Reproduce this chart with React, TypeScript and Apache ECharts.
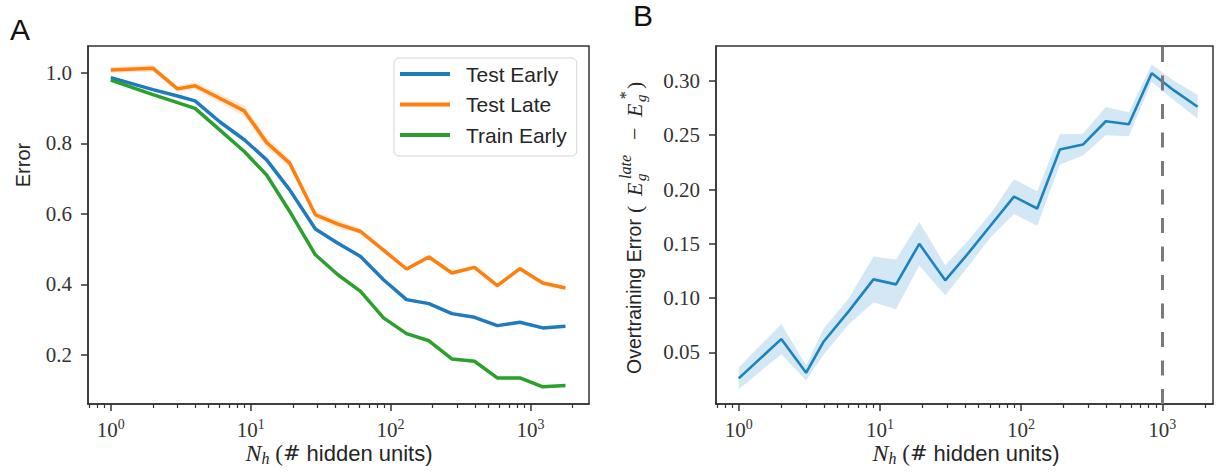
import React, { useEffect, useRef } from 'react';
import * as echarts from 'echarts';

// ---------- data ----------
const N = [1, 2, 3, 4, 6, 9, 13, 19, 29, 42, 61, 89, 130, 188, 274, 398, 579, 841, 1223, 1778];

const testEarly = [0.986, 0.952, 0.934, 0.92, 0.861, 0.81, 0.753, 0.668, 0.557, 0.517, 0.4795, 0.4135, 0.357, 0.3457, 0.3174, 0.307, 0.2834, 0.2928, 0.277, 0.2815];
const testLate = [1.0076, 1.0124, 0.954, 0.963, 0.9275, 0.8917, 0.802, 0.7437, 0.5975, 0.571, 0.55, 0.497, 0.4438, 0.4778, 0.4325, 0.4483, 0.3966, 0.4447, 0.4042, 0.39];
const trainEarly = [0.979, 0.938, 0.915, 0.899, 0.838, 0.7765, 0.71, 0.6068, 0.484, 0.4276, 0.3805, 0.3055, 0.2607, 0.2405, 0.1891, 0.1825, 0.1353, 0.1353, 0.11, 0.1137];

const testEarlyErr = [0.004, 0.004, 0.004, 0.004, 0.005, 0.005, 0.005, 0.005, 0.005, 0.005, 0.005, 0.004, 0.004, 0.004, 0.004, 0.004, 0.004, 0.004, 0.004, 0.004];
const testLateErr = [0.008, 0.01, 0.008, 0.01, 0.012, 0.015, 0.015, 0.012, 0.01, 0.01, 0.008, 0.007, 0.006, 0.006, 0.006, 0.006, 0.006, 0.006, 0.006, 0.006];
const trainEarlyErr = [0.004, 0.004, 0.004, 0.004, 0.004, 0.004, 0.004, 0.004, 0.004, 0.004, 0.004, 0.004, 0.004, 0.004, 0.004, 0.004, 0.004, 0.004, 0.004, 0.004];

const overtraining = [0.026, 0.0622, 0.0312, 0.06, 0.0877, 0.1172, 0.1126, 0.15, 0.1163, 0.1409, 0.1671, 0.1935, 0.1825, 0.2368, 0.2414, 0.2629, 0.2601, 0.3071, 0.2908, 0.2762];
const overtrainingErr = [0.01, 0.014, 0.007, 0.012, 0.012, 0.021, 0.023, 0.02, 0.014, 0.012, 0.011, 0.016, 0.016, 0.014, 0.01, 0.013, 0.011, 0.008, 0.009, 0.011];

const errorTicks = [0.2, 0.4, 0.6, 0.8, 1.0];
const overTicks = [0.05, 0.1, 0.15, 0.2, 0.25, 0.3];
const majorTicks = [1, 10, 100, 1000];
const minorTicks = [0.7, 0.8, 0.9, 2, 3, 4, 5, 6, 7, 8, 9, 20, 30, 40, 50, 60, 70, 80, 90, 200, 300, 400, 500, 600, 700, 800, 900, 2000];
const earlyStopN = 1000;

const seriesNames = ['Test Early', 'Test Late', 'Train Early'];
const seriesColors = ['#1f7bbd', '#ff7f0e', '#2ca02c'];
const bandColors = ['rgba(31,123,189,0.18)', 'rgba(255,127,14,0.18)', 'rgba(44,160,44,0.18)'];

// axis ranges
const A_XMIN = 0.687, A_XMAX = 2620;
const B_XMIN = 0.69, B_XMAX = 2286;
const A_YMIN = 0.0614, A_YMAX = 1.0755;
const B_YMIN = 0.0024, B_YMAX = 0.3322;

const AXIS_COLOR = '#333';
const TEXT_COLOR = '#262626';
const SERIF = '"Liberation Serif", "DejaVu Serif", serif';
const SANS = '"Liberation Sans", Arial, sans-serif';

function bandSeries(vals: number[], errs: number[], color: string, xIdx: number, yIdx: number) {
  return {
    type: 'custom', xAxisIndex: xIdx, yAxisIndex: yIdx, silent: true, z: 1, clip: true,
    data: N.map((n, i) => [n, vals[i] - errs[i], vals[i] + errs[i]]),
    encode: { x: 0, y: [1, 2] },
    renderItem: (params: any, api: any) => {
      if (params.dataIndex !== 0) return null;
      const upper = N.map((n, i) => api.coord([n, vals[i] + errs[i]]));
      const lower = N.map((n, i) => api.coord([n, vals[i] - errs[i]])).reverse();
      return { type: 'polygon', shape: { points: upper.concat(lower) }, style: { fill: color }, silent: true };
    },
  };
}

function logXAxes(gridIndex: number, min: number, max: number) {
  const lmin = Math.log10(min), lmax = Math.log10(max);
  const axisLS = { color: AXIS_COLOR, width: 1.5 };
  return [
    {
      gridIndex, type: 'log', logBase: 10, min, max,
      axisLine: { show: true, onZero: false, lineStyle: axisLS },
      axisTick: { show: false }, axisLabel: { show: false }, splitLine: { show: false },
    },
    {
      gridIndex, type: 'value', min: lmin, max: lmax, position: 'bottom',
      axisLine: { show: false, onZero: false }, splitLine: { show: false },
      axisTick: { show: true, length: 7, lineStyle: axisLS, customValues: majorTicks.map(Math.log10) },
      axisLabel: {
        show: true, customValues: majorTicks.map(Math.log10), margin: 13,
        fontFamily: SERIF, fontSize: 21, color: AXIS_COLOR,
        formatter: (v: number) => '10{s|' + Math.round(v) + '}',
        rich: { s: { fontSize: 14, fontFamily: SERIF, color: AXIS_COLOR, padding: [0, 0, 12, 0] } },
      },
    },
    {
      gridIndex, type: 'value', min: lmin, max: lmax, position: 'bottom',
      axisLine: { show: false, onZero: false }, splitLine: { show: false },
      axisTick: { show: true, length: 4, lineStyle: { color: AXIS_COLOR, width: 1.2 }, customValues: minorTicks.filter((t) => t >= min && t <= max).map(Math.log10) },
      axisLabel: { show: false },
    },
  ];
}

function yAxis(gridIndex: number, min: number, max: number, ticks: number[], digits: number) {
  return {
    gridIndex, type: 'value', min, max,
    axisLine: { show: true, onZero: false, lineStyle: { color: AXIS_COLOR, width: 1.5 } },
    splitLine: { show: false },
    axisTick: { show: true, length: 7, lineStyle: { color: AXIS_COLOR, width: 1.5 }, customValues: ticks },
    axisLabel: {
      show: true, customValues: ticks, margin: 16,
      fontFamily: SERIF, fontSize: 21, color: AXIS_COLOR,
      formatter: (v: number) => v.toFixed(digits),
    },
  };
}

function xName(cx: number) {
  return {
    type: 'text', x: cx, y: 453,
    style: {
      text: '{n|N}{h|h}{p| (}{m|#}{w| hidden units)}',
      align: 'center', verticalAlign: 'middle', textAlign: 'center', textVerticalAlign: 'middle',
      rich: {
        n: { fontFamily: SERIF, fontStyle: 'italic', fontSize: 24, fill: TEXT_COLOR, color: TEXT_COLOR },
        h: { fontFamily: SERIF, fontStyle: 'italic', fontSize: 16, fill: TEXT_COLOR, color: TEXT_COLOR, padding: [11, 0, 0, 0] },
        p: { fontFamily: SERIF, fontSize: 23, fill: TEXT_COLOR, color: TEXT_COLOR },
        m: { fontFamily: '"DejaVu Serif", serif', fontSize: 21, fill: TEXT_COLOR, color: TEXT_COLOR },
        w: { fontFamily: SANS, fontSize: 22, fill: TEXT_COLOR, color: TEXT_COLOR },
      },
    },
  };
}

function txt(x: number, y: number, text: string, font: string, size: number, italic = false) {
  return {
    type: 'text', x, y,
    style: {
      text, fontFamily: font, fontSize: size, fontStyle: italic ? 'italic' : 'normal', fill: TEXT_COLOR,
      align: 'left', verticalAlign: 'middle', textAlign: 'left', textVerticalAlign: 'middle',
    },
  };
}

export default function App() {
  const ref = useRef<HTMLDivElement>(null);

  useEffect(() => {
    if (!ref.current) return;
    const chart = echarts.init(ref.current, undefined, { renderer: 'svg' });

    const aVals = [testEarly, testLate, trainEarly];
    const aErrs = [testEarlyErr, testLateErr, trainEarlyErr];

    const series: any[] = [];
    aVals.forEach((vals, k) => {
      series.push(bandSeries(vals, aErrs[k], bandColors[k], 0, 0));
    });
    aVals.forEach((vals, k) => {
      series.push({
        type: 'line', name: seriesNames[k], xAxisIndex: 0, yAxisIndex: 0,
        data: N.map((n, i) => [n, vals[i]]), symbol: 'none', showSymbol: false,
        lineStyle: { width: 3.5, color: seriesColors[k] }, itemStyle: { color: seriesColors[k] }, z: 3 + k,
      });
    });
    series.push(bandSeries(overtraining, overtrainingErr, '#d3e8f4', 3, 1));
    series.push({
      type: 'line', name: 'Overtraining', xAxisIndex: 3, yAxisIndex: 1,
      data: N.map((n, i) => [n, overtraining[i]]), symbol: 'none', showSymbol: false,
      lineStyle: { width: 2.6, color: '#1b83be' }, itemStyle: { color: '#1b83be' }, z: 3,
      markLine: {
        silent: true, symbol: ['none', 'none'], label: { show: false },
        lineStyle: { color: '#7a7a7a', width: 3, type: [15, 13.5] },
        data: [{ xAxis: earlyStopN }],
      },
    });

    chart.setOption({
      animation: false,
      backgroundColor: '#ffffff',
      grid: [
        { left: 88, top: 46, width: 501, height: 358, show: true, borderColor: AXIS_COLOR, borderWidth: 1.5, backgroundColor: 'transparent' },
        { left: 716, top: 46, width: 497, height: 358, show: true, borderColor: AXIS_COLOR, borderWidth: 1.5, backgroundColor: 'transparent' },
      ],
      xAxis: [...logXAxes(0, A_XMIN, A_XMAX), ...logXAxes(1, B_XMIN, B_XMAX)],
      yAxis: [
        yAxis(0, A_YMIN, A_YMAX, errorTicks, 1),
        yAxis(1, B_YMIN, B_YMAX, overTicks, 2),
      ],
      legend: {
        show: true, data: seriesNames, orient: 'vertical', left: 394, top: 58,
        itemWidth: 50, itemHeight: 4, itemGap: 6.5, icon: 'rect', selectedMode: false,
        padding: [4, 10, 9, 6], borderColor: '#d5d5d5', borderWidth: 1, borderRadius: 5,
        backgroundColor: 'rgba(255,255,255,0.8)',
        textStyle: { fontSize: 21, fontFamily: SANS, color: TEXT_COLOR, lineHeight: 24, padding: [0, 0, 0, 11] },
      },
      graphic: [
        { type: 'text', x: 10, y: 29, style: { text: 'A', fontFamily: SANS, fontSize: 30, fill: '#111', align: 'left', verticalAlign: 'middle', textAlign: 'left', textVerticalAlign: 'middle' } },
        { type: 'text', x: 633, y: 15, style: { text: 'B', fontFamily: SANS, fontSize: 30, fill: '#111', align: 'left', verticalAlign: 'middle', textAlign: 'left', textVerticalAlign: 'middle' } },
        { type: 'text', x: 23, y: 165, rotation: Math.PI / 2, style: { text: 'Error', fontFamily: SANS, fontSize: 20, fill: TEXT_COLOR, align: 'center', verticalAlign: 'middle', textAlign: 'center', textVerticalAlign: 'middle' } },
        xName(339),
        xName(966),
        {
          type: 'group', x: 634, y: 226, rotation: Math.PI / 2,
          children: [
            txt(-148, 0, 'Overtraining Error', SANS, 19.5),
            txt(13, 0, '(', SERIF, 22),
            txt(30, 0, 'E', SERIF, 22, true),
            txt(45, 7, 'g', SERIF, 15, true),
            txt(47, -9, 'late', SERIF, 16, true),
            txt(86, 0, '\u2212', SERIF, 22),
            txt(109, 0, 'E', SERIF, 22, true),
            txt(124, 7, 'g', SERIF, 15, true),
            txt(126, -9, '*', SERIF, 16, true),
            txt(137, 0, ')', SERIF, 22),
          ],
        },
      ],
      series,
    });

    return () => chart.dispose();
  }, []);

  return <div ref={ref} style={{ position: 'absolute', left: 0, top: 0, width: 1218, height: 474 }} />;
}
